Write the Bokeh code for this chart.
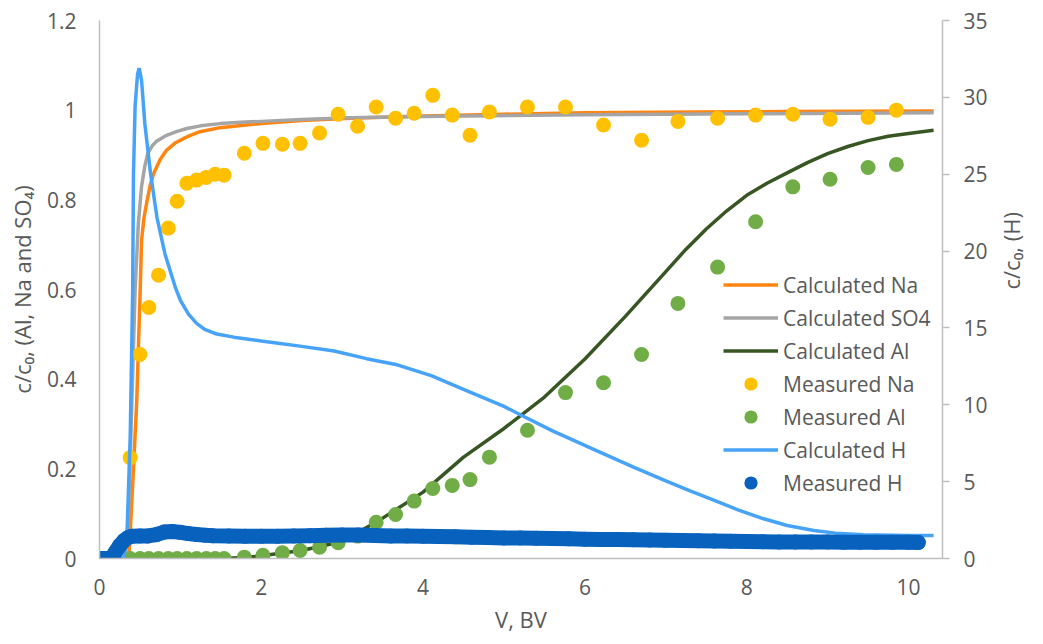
import math
from bokeh.plotting import figure
from bokeh.models import (Range1d, LinearAxis, FixedTicker, CustomJSTickFormatter,
                          Legend, LegendItem)
from bokeh.embed import file_html
from bokeh.resources import INLINE

# ---------------- data ----------------
# Calculated Na (left axis)
cna_x = [0, 0.36, 0.38, 0.42, 0.46, 0.50, 0.52, 0.55, 0.59, 0.63, 0.67, 0.75, 0.83,
         0.93, 1.04, 1.14, 1.24, 1.49, 1.75, 2.0, 2.5, 3.1, 4.0, 5.0, 6.0, 7.4, 8.5,
         10.31]
cna_y = [0, 0, 0.06, 0.20, 0.35, 0.58, 0.71, 0.76, 0.80, 0.835, 0.859, 0.89, 0.911,
         0.926, 0.937, 0.945, 0.952, 0.961, 0.966, 0.970, 0.977, 0.982, 0.987, 0.991,
         0.994, 0.996, 0.997, 0.998]

# Calculated SO4 (left axis)
cso4_x = [0, 0.32, 0.36, 0.40, 0.44, 0.48, 0.52, 0.56, 0.60, 0.65, 0.70, 0.83, 0.95,
          1.08, 1.25, 1.49, 1.75, 2.0, 2.5, 3.1, 4.0, 6.0, 8.0, 10.31]
cso4_y = [0, 0, 0.10, 0.35, 0.598, 0.747, 0.83, 0.875, 0.905, 0.92, 0.93, 0.944,
          0.952, 0.959, 0.965, 0.970, 0.973, 0.975, 0.979, 0.983, 0.986, 0.990, 0.992,
          0.994]

# Calculated Al (left axis)
cal_x = [0, 1.5, 1.8, 2.0, 2.5, 3.0, 3.5, 4.0, 4.5, 5.0, 5.5, 6.0, 6.5, 7.0, 7.25,
         7.5, 7.75, 8.0, 8.25, 8.5, 8.75, 9.0, 9.25, 9.5, 9.75, 10.0, 10.31]
cal_y = [0, 0, 0.002, 0.006, 0.018, 0.038, 0.09, 0.148, 0.226, 0.29, 0.36, 0.445,
         0.54, 0.64, 0.69, 0.735, 0.775, 0.81, 0.837, 0.86, 0.883, 0.903, 0.919, 0.932,
         0.942, 0.948, 0.955]

# Measured samples (left axis)
meas_x = [0.38, 0.50, 0.61, 0.73, 0.85, 0.96, 1.08, 1.20, 1.32, 1.43, 1.54, 1.79,
          2.02, 2.26, 2.48, 2.72, 2.95, 3.19, 3.42, 3.66, 3.89, 4.12, 4.36, 4.58,
          4.82, 5.29, 5.76, 6.23, 6.70, 7.15, 7.64, 8.11, 8.57, 9.03, 9.50, 9.85]
mna_y = [0.225, 0.455, 0.560, 0.632, 0.737, 0.797, 0.837, 0.844, 0.850, 0.857, 0.855,
         0.904, 0.926, 0.924, 0.926, 0.949, 0.991, 0.964, 1.007, 0.982, 0.993, 1.033,
         0.989, 0.944, 0.996, 1.007, 1.007, 0.967, 0.933, 0.975, 0.982, 0.989, 0.991,
         0.980, 0.984, 1.000]
mal_y = [0, 0, 0, 0, 0, 0, 0, 0, 0, 0, 0, 0.003, 0.007, 0.013, 0.018, 0.025, 0.035,
         0.050, 0.081, 0.098, 0.128, 0.156, 0.163, 0.176, 0.226, 0.286, 0.370, 0.392,
         0.455, 0.569, 0.650, 0.751, 0.829, 0.846, 0.872, 0.879]

# Calculated H (right axis)
ch_x = [0, 0.30, 0.34, 0.38, 0.41, 0.42, 0.44, 0.47, 0.49, 0.52, 0.56, 0.63, 0.71,
        0.81, 0.94, 1.0, 1.1, 1.2, 1.3, 1.45, 1.66, 2.07, 2.5, 2.9, 3.3, 3.68, 4.1,
        4.5, 5.0, 5.22, 5.6, 6.15, 6.6, 7.0, 7.3, 7.6, 7.9, 8.2, 8.5, 8.83, 9.1,
        9.44, 10.0, 10.31]
ch_y = [0, 0, 1.6, 8.0, 17.4, 25.0, 29.4, 31.5, 31.9, 31.1, 28.3, 25.1, 22.2, 19.8,
        17.6, 16.8, 15.9, 15.3, 14.9, 14.6, 14.4, 14.1, 13.8, 13.5, 13.0, 12.6, 11.9,
        11.0, 9.9, 9.3, 8.3, 7.0, 5.95, 5.05, 4.4, 3.78, 3.15, 2.6, 2.15, 1.82, 1.65,
        1.55, 1.5, 1.5]

# Measured H (right axis)
mh_x = [0.00, 0.05, 0.10, 0.15, 0.20, 0.25, 0.30, 0.35, 0.40, 0.50, 0.60, 0.70, 0.80,
        0.90, 1.00, 1.10, 1.20, 1.30, 1.40, 1.60, 1.80, 2.00, 2.20, 2.40, 2.60, 2.80,
        3.00, 3.20, 3.40, 3.60, 3.80, 4.00, 4.20, 4.40, 4.60, 4.80, 5.00, 5.20, 5.40,
        5.60, 5.80, 6.00, 6.20, 6.40, 6.60, 6.80, 7.00, 7.20, 7.40, 7.60, 7.80, 8.00,
        8.20, 8.40, 8.60, 8.80, 9.00, 9.20, 9.40, 9.60, 9.80, 10.00, 10.12]
mh_y = [0.0, 0.0, 0.0, 0.05, 0.45, 0.85, 1.15, 1.35, 1.45, 1.47, 1.47, 1.55, 1.72,
        1.76, 1.70, 1.62, 1.56, 1.52, 1.48, 1.46, 1.45, 1.45, 1.45, 1.46, 1.48, 1.51,
        1.53, 1.53, 1.50, 1.47, 1.46, 1.45, 1.43, 1.41, 1.39, 1.36, 1.34, 1.33, 1.32,
        1.30, 1.28, 1.25, 1.24, 1.23, 1.22, 1.20, 1.18, 1.17, 1.16, 1.14, 1.12, 1.10,
        1.09, 1.08, 1.08, 1.07, 1.07, 1.06, 1.06, 1.05, 1.05, 1.05, 1.04]

x_ticks = [0, 2, 4, 6, 8, 10]
left_ticks = [0, 0.2, 0.4, 0.6, 0.8, 1.0, 1.2]
right_ticks = [0, 5, 10, 15, 20, 25, 30, 35]

# ---------------- figure ----------------
FONT = "Open Sans"
TXT = "#595959"
AX = "#BFBFBF"
FS = "21px"
FT = "22px"

p = figure(width=1043, height=644, output_backend="svg", toolbar_location=None,
           x_range=Range1d(0, 10.42), y_range=Range1d(0, 1.2),
           min_border_left=99, min_border_right=101, min_border_top=20,
           min_border_bottom=86)
p.extra_y_ranges = {"h": Range1d(0, 35)}
p.outline_line_color = None
p.grid.visible = False
p.background_fill_color = "white"
p.border_fill_color = "white"

r_cna = p.line(cna_x, cna_y, line_color="#FF8410", line_width=3.5)
r_cso4 = p.line(cso4_x, cso4_y, line_color="#A5A5A5", line_width=3.5)
r_cal = p.line(cal_x, cal_y, line_color="#375623", line_width=3.5)
r_mna = p.scatter(meas_x, mna_y, size=15, fill_color="#FFC000", line_color=None)
r_mal = p.scatter(meas_x, mal_y, size=15, fill_color="#70AD47", line_color=None)
r_ch = p.line(ch_x, ch_y, line_color="#47A3F7", line_width=3.5, y_range_name="h")
p.line(mh_x, mh_y, line_color="#0862BD", line_width=15, line_cap="round",
       line_join="round", y_range_name="h")
r_mh = p.scatter(mh_x, mh_y, size=15, fill_color="#0862BD", line_color=None,
                 y_range_name="h")

yr = LinearAxis(y_range_name="h")
p.add_layout(yr, "right")

def style(ax, ticks, tick_out):
    ax.ticker = FixedTicker(ticks=ticks)
    ax.axis_line_color = AX
    ax.axis_line_width = 1.5
    ax.major_tick_line_color = AX
    ax.major_tick_line_width = 1.5
    ax.major_tick_out = tick_out
    ax.major_tick_in = 0
    ax.minor_tick_line_color = None
    ax.major_label_text_font = FONT
    ax.major_label_text_font_size = FS
    ax.major_label_text_color = TXT
    ax.axis_label_text_font = FONT
    ax.axis_label_text_font_size = FT
    ax.axis_label_text_color = TXT
    ax.axis_label_text_font_style = "normal"

xa = p.xaxis[0]
ya = p.yaxis[0]
style(xa, x_ticks, 0)
style(ya, left_ticks, 0)
style(yr, right_ticks, 7)
ya.formatter = CustomJSTickFormatter(code="return String(Math.round(tick*10)/10);")

xa.axis_label = "V, BV"
xa.major_label_standoff = 20
xa.axis_label_standoff = 6
ya.axis_label = "c/c\u2080, (Al, Na and SO\u2084)"
ya.major_label_standoff = 23
ya.axis_label_standoff = 7
yr.axis_label = "c/c\u2080, (H)"
yr.major_label_standoff = 14
yr.axis_label_standoff = 20
yr.axis_label_orientation = math.pi / 2

legend = Legend(items=[
    LegendItem(label="Calculated Na", renderers=[r_cna]),
    LegendItem(label="Calculated SO4", renderers=[r_cso4]),
    LegendItem(label="Calculated Al", renderers=[r_cal]),
    LegendItem(label="Measured Na", renderers=[r_mna]),
    LegendItem(label="Measured Al", renderers=[r_mal]),
    LegendItem(label="Calculated H", renderers=[r_ch]),
    LegendItem(label="Measured H", renderers=[r_mh]),
], location=(624, 59))
legend.label_text_font = FONT
legend.label_text_font_size = FS
legend.label_text_color = TXT
legend.glyph_width = 55
legend.glyph_height = 33
legend.label_height = 33
legend.spacing = 0
legend.padding = 0
legend.margin = 0
legend.label_standoff = 5
legend.border_line_color = None
legend.background_fill_alpha = 0
p.add_layout(legend, "center")

open("out.html", "w").write(file_html(p, INLINE))
